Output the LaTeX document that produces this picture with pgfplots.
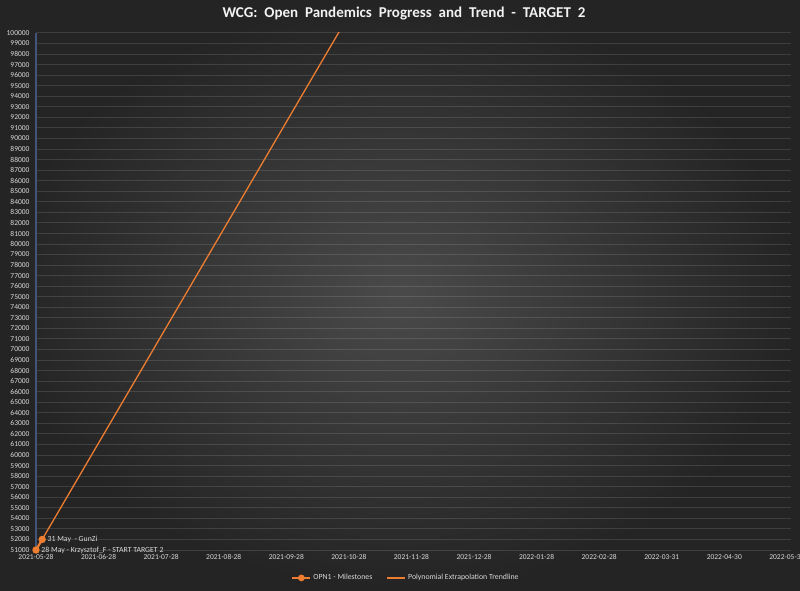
\documentclass[border=0pt]{standalone}
\usepackage{pgfplots}
\pgfplotsset{compat=1.18}
\usepackage{fontspec}
\setmainfont{Carlito}
\definecolor{xlorange}{HTML}{ED7D31}
\definecolor{txt}{HTML}{D9D9D9}
\definecolor{axblue}{HTML}{41557A}
\newcommand{\ws}{\ \hspace{3.5pt}}
\begin{document}
\begin{tikzpicture}[x=1pt,y=1pt]
  \useasboundingbox (0,0) rectangle (800,590);
  \shade[inner color=black!71, outer color=black!86] (0,0) rectangle (800,590);
  \node[text=black!5, font=\fontsize{15}{17}\selectfont\bfseries] at (404,576)
    {WCG:\ws Open\ws Pandemics\ws Progress\ws and\ws Trend\ws -\ws TARGET\ws 2};
  \begin{axis}[
      at={(36pt,40pt)}, anchor=south west,
      width=755pt, height=517pt, scale only axis,
      xmin=0, xmax=367, ymin=51000, ymax=100000,
      axis line style={draw=none},
      axis x line*=bottom, axis y line*=left,
      ytick distance=1000,
      scaled y ticks=false,
      ymajorgrids,
      grid style={white, opacity=0.12, line width=1pt},
      major tick length=0pt,
      tick label style={text=txt, font=\fontsize{7.5}{9}\selectfont},
      /pgf/number format/assume math mode=true,
      /pgf/number format/fixed,
      /pgf/number format/1000 sep={},
      xtick={0,30.42,60.83,91.25,121.67,152.08,182.5,212.92,243.33,273.75,304.17,334.58,365},
      xticklabels={2021-05-28,2021-06-28,2021-07-28,2021-08-28,2021-09-28,2021-10-28,2021-11-28,2021-12-28,2022-01-28,2022-02-28,2022-03-31,2022-04-30,2022-05-31},
      yticklabel style={xshift=-3pt},
      xticklabel style={yshift=-1pt},
      clip mode=individual,
      legend columns=2,
      legend style={draw=none, fill=none, text=txt, font=\fontsize{7.8}{9}\selectfont,
        at={(0.49,-0.054)}, anchor=center,
        /tikz/every even column/.append style={column sep=12pt}},
  ]
  \draw[axblue, line width=1.5pt] (axis cs:0,51000) -- (axis cs:0,100000);

  \addplot[xlorange, line width=2.2pt, mark=*, mark size=2.5pt,
    nodes near coords, point meta=explicit symbolic,
    every node near coord/.style={text=txt, font=\fontsize{7.8}{9}\selectfont, anchor=west, xshift=1pt},
    legend image code/.code={
      \draw[xlorange, line width=2.2pt] (0pt,0pt) -- (18pt,0pt);
      \fill[xlorange] (9pt,0pt) circle (2.2pt);
    }]
    coordinates {
      (0,51000) [28 May - Krzysztof\_F - START TARGET 2]
      (3,52000) [31 May\ \ - GunZi]
    };
  \addlegendentry{OPN1 - Milestones}

  \addplot[xlorange, line width=1.3pt, no marks,
    legend image code/.code={
      \draw[xlorange, line width=1.8pt] (0pt,0pt) -- (18pt,0pt);
    }] coordinates {
      (0,51000) (147,100000) (150,101000)
    };
  \addlegendentry{Polynomial Extrapolation Trendline}
  \end{axis}
\end{tikzpicture}
\end{document}
